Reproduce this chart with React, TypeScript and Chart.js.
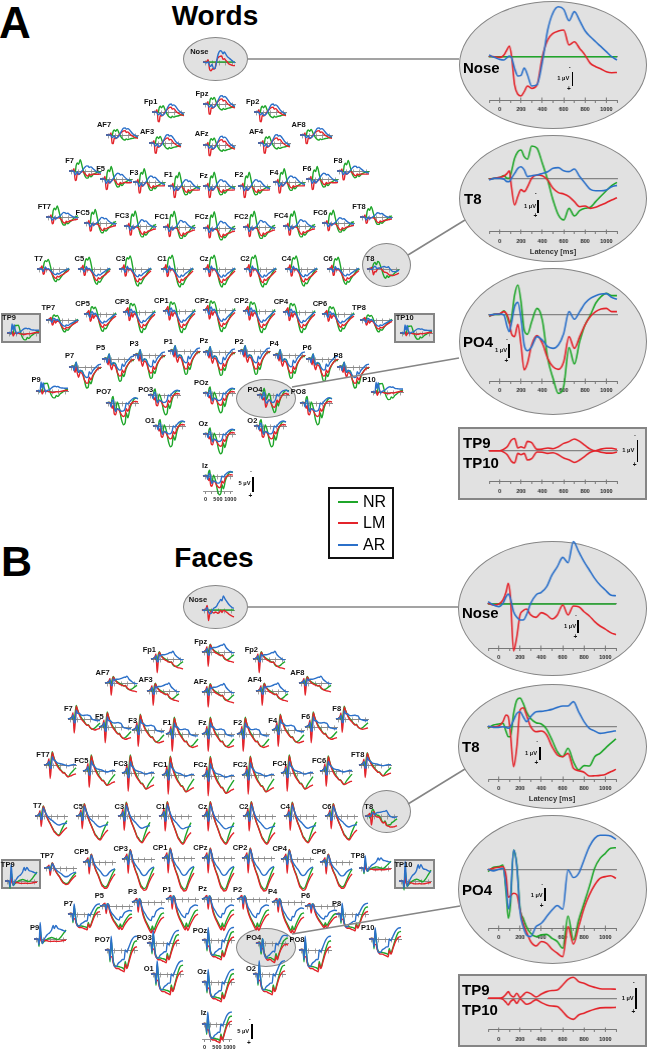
import React, { useEffect, useRef } from "react";
import Chart from "chart.js/auto";

// ---------- shared latency grids (ms) ----------
const LAT = [-100,-50,0,40,70,90,110,140,170,200,230,260,300,350,400,450,500,550,600,650,700,750,800,850,900,950,1000,1050,1100];
const SLAT = [-100,0,50,90,130,170,210,260,320,400,480,560,620,660,720,800,900,1000,1100];
const LARGE_TICKS_MINOR = [-100,100,300,500,700,900,1100];
const LARGE_TICKS_MAJOR = [0,200,400,600,800,1000];
const SMALL_TICKS = [0,250,500,750,1000];
const LEGEND_NAMES = ["NR","LM","AR"];

// ---------- enlarged traces, microvolts (negative is up) ----------
const W_NOSE_NR = LAT.map(() => 0);
const W_NOSE_LM = [-.05,0,.05,-.12,-.55,-.8,-.12,2.12,2.82,2.95,2.62,2.2,2.38,2.12,0,-1.25,-1.75,-1.92,-2,-.88,-1.12,-.62,-.12,.5,.75,.92,1.12,1.2,1.18];
const W_NOSE_AR = [-.12,.05,.2,.25,.05,-.05,.05,.88,1.45,1.4,.85,1.35,2.2,2.1,.4,-2,-3.3,-3.75,-3.55,-2.7,-3.38,-2.7,-1.95,-1.5,-1.12,-.75,-.38,0,.25];
const W_T8_NR = [0,-.05,-.12,-.25,-.05,-.05,-.55,-1.55,-2.05,-2.18,-1.68,-1.48,-2.48,-2.3,-1.18,.08,1.58,2.7,3.08,2.2,2.78,2.38,2.2,2.12,1.7,1.28,.88,.5,.25];
const W_T8_LM = [.02,-.05,-.12,-.22,-.42,-.62,.58,1.95,1.3,.8,.95,.6,-.05,-.3,-.25,.08,.7,1.02,1.12,1.32,1.7,2.08,2.02,2.2,2.12,1.95,1.78,1.58,1.4];
const W_T8_AR = [.08,-.05,-.05,.02,.2,.2,-.05,-.42,-.8,-.92,-.68,-.18,-.25,-.3,-.42,-.55,-.8,-.85,-.62,-.55,-.75,-.18,.32,.78,.88,.88,.82,.58,.48];
const W_PO4_NR = [.12,-.05,-.05,-.32,.12,.62,.25,-1.5,-2.25,-1,1.12,1.45,.5,-.5,.38,3.25,4.75,5.88,5.35,2.45,3.68,2,.75,0,-.88,-1.38,-1.62,-1.45,-1.45];
const W_PO4_LM = [.08,-.05,-.1,-.25,0,.5,1.38,1.62,.7,2.25,4.12,3.62,2.25,1.55,2.12,3.25,3.88,4.08,3.5,1.62,2.5,1.62,.75,.12,-.25,-.45,-.5,-.25,-.25];
const W_PO4_AR = [0,-.05,-.08,0,.88,1.25,.62,-.62,-.95,.25,2.25,2.68,2.38,1.62,1.88,2.38,2.5,2.25,1.38,-.25,.32,-.25,-.88,-1.25,-1.45,-1.58,-1.6,-1.32,-1.18];
const W_TP9 = [0,0,0,-.12,-.3,-.55,-.8,-.92,-.2,-.3,-.2,-.7,-.6,-.1,-.12,-.2,-.15,-.3,-.55,-.68,-.88,-.7,-.4,-.12,0,-.12,-.18,-.18,-.1];
const W_TP10 = [0,0,0,.12,.3,.55,.8,.92,.2,.3,.2,.7,.6,.1,.12,.2,.15,.3,.55,.68,.88,.7,.4,.12,0,.12,.18,.18,.1];

const F_NOSE_NR = LAT.map(() => 0);
const F_NOSE_LM = [-.05,.08,0,-.3,-.92,-1.55,-.55,3.52,2.45,.82,.5,.38,.82,1,.65,.82,1.12,.82,.08,.82,.15,.2,.58,.9,1.32,1.65,1.88,2.15,2.3];
const F_NOSE_AR = [-.18,.08,.2,-.05,-.55,-.75,-.42,.58,1,1.2,1.2,.82,-.05,-.68,-.88,-1.3,-2.18,-2.8,-3.5,-3.1,-4.68,-3.92,-3.18,-2.55,-1.92,-1.42,-1.05,-.68,-.62];
const F_T8_NR = [.12,-.12,-.2,-.25,.38,.75,.75,-1,-2,-2.15,-1.75,-1.12,-.62,-.3,-.2,.2,1,1.88,2.25,1.62,2.62,3.25,2.92,2.95,2.25,2,1.62,1.25,.92];
const F_T8_LM = [0,0,-.05,-.38,-.88,-.75,.5,3,1.5,-1.25,-1.42,-.88,0,.38,.32,.62,1.5,2.12,2.25,2,3.12,3.3,3.42,3.7,3.68,3.65,3.58,3.38,3.2];
const F_T8_AR = [-.05,.05,.05,0,.05,.12,0,-.5,-1,-1.12,-.75,-.38,-.75,-1.12,-1.15,-1.22,-1.3,-1.45,-1.55,-1.55,-1.88,-1.12,-.38,.12,.32,.5,.45,.38,.3];
const F_PO4_NR = [.18,-.15,-.2,-.32,1.8,3.68,2.68,-1.45,-.32,2.92,3.68,4.3,4.8,5.05,4.92,4.88,5.18,5.42,5.92,3.5,5.3,3.8,2.55,1.3,-.08,-.82,-1.2,-1.58,-1.62];
const F_PO4_LM = [.05,-.08,-.15,-.2,.55,2.1,2,1.8,1.92,3.05,4.05,4.68,5.42,5.75,5.42,5.55,6,6.3,6.55,4.3,5.62,4.3,2.92,1.92,1.18,.68,.55,.48,.68];
const F_PO4_AR = [0,.12,0,-.08,1.42,2.98,2.18,-1.45,-.2,3.18,4.3,4.92,5.05,4.3,4.05,3.55,3.05,2.72,3,.05,.62,.3,-.7,-1.7,-2.32,-2.55,-2.55,-2.5,-2.25];
const F_TP9 = [0,0,0,-.08,-.32,-.5,-.25,-.1,-.38,-.05,-.25,-.45,-.35,-.1,-.32,-.5,-.58,-.62,-1,-1.42,-1.58,-1.25,-1.12,-.95,-.82,-.72,-.7,-.7,-.68];
const F_TP10 = [0,0,0,.08,.32,.5,.25,.1,.38,.05,.25,.45,.35,.1,.32,.5,.58,.62,1,1.42,1.58,1.25,1.12,.95,.82,.72,.7,.7,.68];

// ---------- electrode-group traces (Words) ----------
const W_FP_NR = [0,-.1,-.2,0,.3,-1.5,-2,-1.5,-2.2,-.5,1,1.8,2,1.5,1.8,1.5,1.3,1,.9];
const W_FP_LM = [0,-.1,-.2,-.8,3.3,3.4,1.2,1.4,1,-.2,-1,-1.6,-1.7,-1,-1.2,-.3,.5,1,1.3];
const W_FP_AR = [0,0,0,.3,1,.8,.3,1.2,1,.2,-1.5,-2.7,-2.8,-2.3,-2.5,-1.8,-.5,.2,.8];
const W_F_NR = [0,-.1,-.2,0,.5,-2.2,-3.2,-2.6,-4.4,-1.5,1.5,2.8,2.7,1.6,2.3,1.5,.8,.4,.3];
const W_F_LM = [0,-.1,-.2,-.9,3.7,3.6,1,1.4,.8,.2,.8,1.8,2,1.2,1.6,1.2,1.3,1.3,1.2];
const W_F_AR = [0,0,0,.4,1.5,1,.3,1.3,.8,-.2,-1.3,-2,-1.9,-1.4,-1.6,-.9,0,.5,.9];
const W_FC_NR = [0,-.1,-.2,0,.3,-3,-4.2,-3.4,-5.3,-2,2,3.8,3.8,2.6,3.2,2.3,1.2,0,-.6];
const W_FC_LM = [0,-.1,-.2,-1,3.2,3,.3,.8,.3,.4,1.3,2.7,2.9,2,2.4,1.8,1.6,1.2,1];
const W_FC_AR = [0,0,0,.4,1.5,1,0,1,.4,-.2,-1.2,-2.2,-2,-1.6,-1.8,-1,-.2,.2,.5];
const W_C_NR = [0,-.1,-.3,-.2,-.5,-3,-4,-3.5,-4.6,-1.5,3,5.5,6,4.8,5.2,3.8,2.3,.8,-.3];
const W_C_LM = [0,-.2,-.6,-1.5,2.5,2.2,-.5,.4,.2,1,2.6,4.2,4.5,3.4,3.8,3,2.4,1.5,.6];
const W_C_AR = [0,0,-.1,.3,1.2,.3,-1,0,-.2,.6,1.6,2.6,2.7,2,2.4,1.7,1,.3,-.3];
const W_CP_NR = [0,-.2,-.6,-.4,-.3,-2.7,-3,-2.2,-2.8,-.5,4,6.8,7.2,5.8,6.2,4.5,2.5,.8,-.5];
const W_CP_LM = [0,-.2,-1,-1.5,3,2.5,.3,1.8,.6,1.2,3.4,5.2,5.5,4.4,4.8,4,2.8,1.7,.8];
const W_CP_AR = [0,-.1,-.3,.8,1.5,-.6,-1,.2,-.3,.8,2.4,3.6,3.8,3,3.3,2.5,1.6,.7,0];
const W_P_NR = [0,-.2,-.5,.4,-.8,-1.8,.6,2,1.5,1.5,5,7.8,7.5,5.2,6.2,3.5,1.5,.5,.5];
const W_P_LM = [0,-.1,-.4,.9,2,-.3,2.2,3.8,2,2.6,4.8,6,5.8,3.8,4.8,3,1.6,.5,.1];
const W_P_AR = [0,-.1,-.3,1.3,-.4,-1.8,.5,2,1.2,1.8,3.2,3.9,3.7,1.7,2.6,1.2,.2,-.8,-1];
const W_O_NR = [0,-.2,-.2,.6,-1.5,-2,1.2,2.5,-.3,1.5,5,6.6,6,3,4.5,1.6,-.5,-1.4,-1.4];
const W_O_LM = [0,-.1,-.2,.6,1.6,.7,3.3,3.6,1.7,2.3,3.6,4.1,3.6,1.7,2.5,.8,-.2,-.5,-.3];
const W_O_AR = [0,-.1,0,1.2,-.6,-.9,1,2.6,1.7,2,2.5,2.4,1.6,0,.3,-.5,-1.3,-1.6,-1.2];
const W_TP_NR = [0,.1,.3,-.3,.3,-1.5,-2.5,-2.5,-2.6,-.5,1.5,2.3,2.2,1.5,1.8,1,.4,-.3,-.6];
const W_TP_LM = [0,0,.1,-.5,1,.4,-.2,.2,.1,.3,.4,.5,.4,.2,.3,.2,0,-.2,-.2];
const W_TP_AR = [0,-.1,.3,-3,-1,-2.8,-1,.3,-.2,-.4,-1,-1.5,-1.6,-1.4,-1.5,-1.1,-1,-.9,-.9];

// ---------- electrode-group traces (Faces) ----------
const F_FP_NR = [0,-.2,-.6,.2,.4,-1.4,-2.6,-1.6,-.8,-.2,.3,.8,1.2,1,2,2.6,2.4,1.6,.9];
const F_FP_LM = [0,-.2,-.8,-1.8,4.8,1,-2.4,-1.5,-.6,.2,.6,1,1.2,1,1.8,2.5,3,3.2,3.5];
const F_FP_AR = [0,-.2,-.4,-1.2,1,1,-1.6,-1,-1.5,-1.5,-1.7,-2,-2.3,-2.2,-2.7,-1.5,-.6,.1,.3];
const F_F_NR = [0,-.3,-.8,.3,.6,-2.5,-5.3,-3.5,-2,-.5,.7,1.8,2.4,2.2,3.2,4,3.6,2.6,1.6];
const F_F_LM = [0,-.3,-1,-2.5,5.5,1.5,-5,-3.5,-1.8,0,1,2,2.5,2.4,3.2,3.9,4.3,4,3.7];
const F_F_AR = [0,-.3,-.6,-1.6,1.4,1.5,-3.5,-2.2,-2.2,-1.5,-1.4,-1.5,-1.6,-1.4,-1.3,0,.4,.6,.6];
const F_FC_NR = [0,-.3,-1,.3,.7,-3,-6.3,-4,-2,-.2,1.5,2.8,3.6,3.6,4.6,5.6,4,2.6,1.3];
const F_FC_LM = [0,-.3,-1.2,-3,6.4,1.5,-6,-4,-1.5,.6,2,3,3.8,3.8,4.6,5.6,5.2,4.6,4.2];
const F_FC_AR = [0,-.3,-.7,-1.8,1.6,1.6,-4,-2.5,-2,-1,-.7,-.5,-.3,-.1,.2,.4,.1,-.2,-.2];
const F_C_NR = [0,-.2,-1,.2,.5,-2.5,-4.8,-3,-.5,2,3.8,5.8,7.2,7.6,8.6,9,6.5,4,2.2];
const F_C_LM = [0,-.2,-1,-2.5,5,1,-4.7,-3,-.5,2,4,6,7.5,8,8.8,9.4,8,6.5,5.5];
const F_C_AR = [0,-.2,-.6,-1.5,1.8,1.2,-3.8,-2.5,-1,.6,1.6,2.3,3,3.4,4,4.3,3.9,3.6,3.4];
const F_CP_NR = [0,-.2,-.8,.2,.8,-1.5,-3.3,-1.5,1.2,3.8,5.6,8,9.4,9.8,10.4,10,7.5,5,3];
const F_CP_LM = [0,-.2,-1,-1.8,5,.3,-3.3,-1.5,1.5,4,6,8.5,10,10.3,11,10.8,8.5,6.5,5];
const F_CP_AR = [0,-.2,-.5,-1,2,.5,-2.8,-1.5,.5,2,3,4,5,5.5,5.8,5.5,4.2,3.3,2.8];
const F_P_NR = [0,-.3,-.8,-.4,1.5,-1,-.9,1.8,4,6,7.4,8.8,9.5,8,9.3,7.5,5.5,4,3.6];
const F_P_LM = [0,-.3,-1,-1.2,3.4,.3,-.8,2,4.5,6.5,8,9.5,10.3,9.2,10.5,8.8,7,5.6,5];
const F_P_AR = [0,-.3,-.6,-.6,1.6,-1,-.7,1.2,2.8,4,5.2,6,6.2,4.8,5,3.2,2.4,2,2.2];
const F_O_NR = [0,-.2,-.2,3.6,-3,0,3.4,4.6,5,5,5.2,5.4,5.8,3.5,5.3,3,-.2,-2.4,-2.8];
const F_O_LM = [0,-.2,-.2,2.2,2,2.2,4,5,5.6,5.6,6,6.3,6.6,4.3,5.6,3.5,.8,-.6,-1];
const F_O_AR = [0,0,-.1,3,-4.2,-.2,3.4,5,5,4,3.5,2.9,2.9,0,.6,-1,-3,-4,-4.2];
const F_TP_NR = [0,0,0,2.5,-3,-.5,1.5,1,.6,0,-.3,-.5,-.4,-.2,0,.2,-.6,-1.8,-3];
const F_TP_LM = [0,0,0,1.5,-1,.6,1,.5,.5,.6,.8,.8,.8,.7,.8,.8,.7,.5,.4];
const F_TP_AR = [0,0,0,2,-5.5,-1,1.5,.5,-.5,-1.5,-2,-3,-4.5,-3.5,-4.5,-3.5,-3.2,-2.8,-2.5];

type Triple = [number[], number[], number[]];
const WORD_GROUPS: Record<string, Triple> = {
  FP: [W_FP_NR, W_FP_LM, W_FP_AR], F: [W_F_NR, W_F_LM, W_F_AR], FC: [W_FC_NR, W_FC_LM, W_FC_AR],
  C: [W_C_NR, W_C_LM, W_C_AR], CP: [W_CP_NR, W_CP_LM, W_CP_AR], P: [W_P_NR, W_P_LM, W_P_AR],
  O: [W_O_NR, W_O_LM, W_O_AR], TP: [W_TP_NR, W_TP_LM, W_TP_AR],
};
const FACE_GROUPS: Record<string, Triple> = {
  FP: [F_FP_NR, F_FP_LM, F_FP_AR], F: [F_F_NR, F_F_LM, F_F_AR], FC: [F_FC_NR, F_FC_LM, F_FC_AR],
  C: [F_C_NR, F_C_LM, F_C_AR], CP: [F_CP_NR, F_CP_LM, F_CP_AR], P: [F_P_NR, F_P_LM, F_P_AR],
  O: [F_O_NR, F_O_LM, F_O_AR], TP: [F_TP_NR, F_TP_LM, F_TP_AR],
};
const WORD_LARGE: Record<string, Triple> = {
  Nose: [W_NOSE_NR, W_NOSE_LM, W_NOSE_AR], T8: [W_T8_NR, W_T8_LM, W_T8_AR], PO4: [W_PO4_NR, W_PO4_LM, W_PO4_AR],
};
const FACE_LARGE: Record<string, Triple> = {
  Nose: [F_NOSE_NR, F_NOSE_LM, F_NOSE_AR], T8: [F_T8_NR, F_T8_LM, F_T8_AR], PO4: [F_PO4_NR, F_PO4_LM, F_PO4_AR],
};
const FACE_GROUP_OVERRIDE: Record<string, [string, number]> = {
  P7: ["O", 0.8], P8: ["O", 0.85], P5: ["P", 0.75], P6: ["P", 0.7], TP8: ["TP", 0.75], TP7: ["CP", 0.5],
  P9: ["TP", 1], P10: ["O", 0.9], TP10: ["TP", 1.2],
};

// ---------- layout: name, group, gain, plot x, zero y, label x, label y (3x reference units) ----------
type Site = [string, string, number, number, number, number, number];
const SITES_TOP: Site[] = [
  ["Nose","L",1,610,187,598,157],
  ["Fp1","FP",.95,456,335,452,306],["Fpz","FP",1,610,313,606,282],["Fp2","FP",.95,762,335,758,306],
  ["AF7","FP",.85,318,405,312,375],["AF3","FP",1,446,429,441,396],["AFz","FP",1.05,610,434,605,403],["AF4","FP",1,773,429,768,396],["AF8","FP",.85,901,405,896,375],
  ["F7","F",.85,208,514,209,484],["F5","F",.95,300,537,302,507],["F3","F",1,400,547,402,520],["F1","F",1.05,503,558,505,526],["Fz","F",1.05,610,558,611,527],["F2","F",1.05,715,558,717,526],["F4","F",1,820,547,822,520],["F6","F",.95,918,537,921,507],["F8","F",.8,1012,514,1014,484],
  ["FT7","FC",.7,137,652,133,622],["FC5","FC",.85,253,669,248,639],["FC3","FC",.95,371,677,366,648],["FC1","FC",1,490,682,485,652],["FCz","FC",1.03,610,685,605,652],["FC2","FC",1,729,682,724,652],["FC4","FC",.95,848,677,843,648],["FC6","FC",.8,965,669,961,639],["FT8","FC",.65,1081,652,1077,622],
  ["T7","C",.7,110,806,116,776],["C5","C",.85,233,806,238,777],["C3","C",.95,357,806,362,777],["C1","C",1,482,806,486,777],["Cz","C",1,610,806,612,777],["C2","C",1,732,806,735,777],["C4","C",.95,855,806,859,777],["C6","C",.85,980,806,984,777],["T8","L",1,1100,806,1110,777],
];
const SITES_BOTTOM: Site[] = [
  ["TP7","CP",.55,137,150,145,115],["CP5","CP",.8,253,133,248,103],["CP3","CP",.95,370,125,366,95],["CP1","CP",1,490,122,484,92],["CPz","CP",1,610,120,605,92],["CP2","CP",1,729,122,724,92],["CP4","CP",.95,848,125,843,95],["CP6","CP",.8,965,133,960,103],["TP8","CP",.55,1081,150,1077,115],
  ["TP9","TP",1,20,190,27,143],["TP10","TP",.9,1200,190,1214,143],
  ["P7","P",.9,208,290,209,258],["P5","P",.95,305,266,302,235],["P3","P",1,400,254,402,222],["P1","P",1,503,244,505,216],["Pz","P",1,610,245,612,214],["P2","P",1,715,244,717,216],["P4","P",1,820,254,822,222],["P6","P",.95,918,266,921,235],["P8","P",.9,1012,290,1014,258],
  ["P9","TP",1,107,363,108,330],["P10","TP",1.1,1112,365,1107,330],
  ["PO7","O",1.1,318,398,311,366],["PO3","O",1,445,376,437,360],["POz","O",1,610,368,604,340],["PO4","L",1,772,376,765,360],["PO8","O",1.1,901,398,895,366],
  ["O1","O",1.05,458,468,450,454],["Oz","O",1,610,492,610,463],["O2","O",1.05,763,468,757,454],
  ["Iz","O",.95,610,618,615,587],
];

const GREEN = "#1fa62a", RED = "#e3242b", BLUE = "#2b70c9", AXIS = "#8a8a8a";
const FONT = "'Liberation Sans', Arial, sans-serif";
const BODY_DY = 547.5, BODY_DX = -1.3;

// ---------- one small electrode plot ----------
const SM_W = 40, SM_H = 96, SM_PX_UV = 3;
function smallConfig(tr: Triple, grid: number[], gain: number, withScale: boolean) {
  const half = SM_H / 2 / SM_PX_UV;
  const ds = (vals: number[], c: string) => ({
    data: vals.map((v, i) => ({ x: grid[i], y: v * gain })), borderColor: c, borderWidth: 1.4,
    pointRadius: 0, cubicInterpolationMode: "monotone", clip: false,
  });
  const tickAxis = (len: number, extra = {}) => ({
    type: "linear", axis: "x", min: -100, max: 1100, position: { y: 0 },
    afterBuildTicks: (s: any) => { s.ticks = SMALL_TICKS.map((value) => ({ value })); },
    ticks: { display: false },
    border: { color: AXIS, width: 0.9 },
    grid: { drawOnChartArea: false, tickLength: len, color: AXIS, tickWidth: 0.8 },
    ...extra,
  });
  const scales: any = {
    x: tickAxis(2.5),
    x2: tickAxis(-2.5),
    y: { type: "linear", display: false, reverse: true, min: -half, max: half },
  };
  if (withScale) {
    scales.x3 = {
      type: "linear", axis: "x", min: -100, max: 1100, position: { y: 5.3 },
      afterBuildTicks: (s: any) => { s.ticks = SMALL_TICKS.map((value) => ({ value })); },
      ticks: { display: true, autoSkip: false, maxRotation: 0, padding: 2, color: "#222",
        font: { size: 5.5, weight: "bold", family: FONT },
        callback: (v: number) => (v % 500 === 0 ? String(v) : "") },
      border: { color: AXIS, width: 0.9 },
      grid: { drawOnChartArea: false, tickLength: 2, color: AXIS },
    };
  }
  return baseConfig([ds(tr[2], BLUE), ds(tr[1], RED), ds(tr[0], GREEN)], scales, 4);
}
function baseConfig(datasets: any[], scales: any, pad: number) {
  return {
    type: "line",
    data: { datasets },
    options: {
      animation: false, responsive: false, events: [],
      layout: { padding: { left: pad, right: pad, top: 0, bottom: 0 } },
      plugins: { legend: { display: false }, tooltip: { enabled: false }, title: { display: false } },
      scales,
    },
  } as any;
}

// ---------- one enlarged plot ----------
const LG_PX_UV = 13.33, LG_PX_MS = 0.1063, LG_PAD = 10;
function largeConfig(series: number[][], colors: string[], H: number, zero: number, axis: number) {
  const datasets = series.map((vals, i) => ({
    data: vals.map((v, j) => ({ x: LAT[j], y: v })), borderColor: colors[i], borderWidth: 1.6,
    pointRadius: 0, cubicInterpolationMode: "monotone", clip: false,
  }));
  const axisUv = (axis - zero) / LG_PX_UV;
  const all = [...LARGE_TICKS_MINOR, ...LARGE_TICKS_MAJOR].sort((a, b) => a - b);
  const scales: any = {
    x: {
      type: "linear", axis: "x", min: -100, max: 1100, position: { y: axisUv },
      afterBuildTicks: (s: any) => { s.ticks = all.map((value) => ({ value })); },
      ticks: { autoSkip: false, maxRotation: 0, padding: 4, color: "#222",
        font: { size: 5.5, weight: "bold", family: FONT },
        callback: (v: number) => (LARGE_TICKS_MAJOR.includes(v) ? String(v) : "") },
      border: { color: "#777", width: 1 },
      grid: { drawOnChartArea: false, tickLength: 2, color: "#777" },
    },
    xt: {
      type: "linear", axis: "x", min: -100, max: 1100, position: { y: axisUv },
      afterBuildTicks: (s: any) => { s.ticks = LARGE_TICKS_MAJOR.map((value) => ({ value })); },
      ticks: { display: false },
      border: { display: false },
      grid: { drawOnChartArea: false, tickLength: -2.5, color: "#777" },
    },
    xz: {
      type: "linear", axis: "x", min: -100, max: 1100, position: { y: 0 },
      ticks: { display: false },
      border: { color: "#858585", width: 1.3 },
      grid: { display: false, drawOnChartArea: false, drawTicks: false },
    },
    y: { type: "linear", display: false, reverse: true, min: -zero / LG_PX_UV, max: (H - zero) / LG_PX_UV },
  };
  return baseConfig(datasets, scales, LG_PAD);
}

// ---------- plot descriptions ----------
type Plot = { key: string; left: number; top: number; w: number; h: number; cfg: any };
const plots: Plot[] = [];
const labels: { t: string; x: number; y: number }[] = [];

function addSmall(panel: 0 | 1, s: Site, yBase: number) {
  const [name, group0, gain0, zx, zy, lx, ly] = s;
  const dx = panel ? BODY_DX : 0, dy = panel ? BODY_DY : 0;
  const x = zx / 3 + dx, y = zy / 3 + yBase + dy;
  labels.push({ t: name, x: lx / 3 + dx, y: ly / 3 + yBase + dy });
  let tr: Triple, grid = SLAT, gain = gain0;
  if (group0 === "L") {
    tr = (panel ? FACE_LARGE : WORD_LARGE)[name];
    grid = LAT;
    gain = 1;
  } else if (panel && FACE_GROUP_OVERRIDE[name]) {
    tr = FACE_GROUPS[FACE_GROUP_OVERRIDE[name][0]];
    gain = FACE_GROUP_OVERRIDE[name][1];
  } else {
    tr = (panel ? FACE_GROUPS : WORD_GROUPS)[group0];
  }
  plots.push({
    key: `${panel}-${name}`, left: x - 4, top: y - SM_H / 2, w: SM_W, h: SM_H,
    cfg: smallConfig(tr, grid, gain, name === "Iz"),
  });
}
[0, 1].forEach((p) => {
  SITES_TOP.forEach((s) => addSmall(p as 0 | 1, s, 0));
  SITES_BOTTOM.forEach((s) => addSmall(p as 0 | 1, s, 270));
});

type Big = { key: string; series: number[][]; colors: string[]; x0: number; top: number; h: number; zero: number; axis: number };
const COLORS3 = [BLUE, RED, GREEN];
const RR = [RED, RED];
const bigs: Big[] = [
  { key: "wn", series: [W_NOSE_AR, W_NOSE_LM, W_NOSE_NR], colors: COLORS3, x0: 489.3, top: 1, h: 128, zero: 56.7, axis: 100 },
  { key: "wt", series: [W_T8_AR, W_T8_LM, W_T8_NR], colors: COLORS3, x0: 489.3, top: 135, h: 127, zero: 179, axis: 231.7 },
  { key: "wp", series: [W_PO4_AR, W_PO4_LM, W_PO4_NR], colors: COLORS3, x0: 489.3, top: 268, h: 147, zero: 315, axis: 381 },
  { key: "wb", series: [W_TP9, W_TP10], colors: RR, x0: 489.3, top: 427, h: 73, zero: 450.7, axis: 481.7 },
  { key: "fn", series: [F_NOSE_AR, F_NOSE_LM, F_NOSE_NR], colors: COLORS3, x0: 488, top: 538, h: 138, zero: 604, axis: 648.3 },
  { key: "ft", series: [F_T8_AR, F_T8_LM, F_T8_NR], colors: COLORS3, x0: 488, top: 684, h: 125, zero: 726.7, axis: 779.3 },
  { key: "fp", series: [F_PO4_AR, F_PO4_LM, F_PO4_NR], colors: COLORS3, x0: 488, top: 815, h: 149, zero: 869.3, axis: 928.3 },
  { key: "fb", series: [F_TP9, F_TP10], colors: RR, x0: 488, top: 974, h: 73, zero: 998.3, axis: 1030 },
];
const BIG_W = 1200 * LG_PX_MS + 2 * LG_PAD;
bigs.forEach((b) => {
  plots.push({
    key: b.key, left: b.x0 - LG_PAD, top: b.top, w: BIG_W, h: b.h,
    cfg: largeConfig(b.series, b.colors, b.h, b.zero - b.top, b.axis - b.top),
  });
});

// ---------- decoration tables ----------
const ELLIPSES = [
  [459, 1, 188, 128], [459, 135, 188, 127], [459, 268, 188, 147],
  [458, 541, 189, 135], [458, 684, 189, 125], [458, 815, 189, 149],
  [183, 37, 65, 44], [362, 243, 49, 44], [236, 379, 60, 39],
  [183, 585, 65, 44], [362, 790, 49, 43], [236, 928, 60, 39],
];
const BOXES = [
  [458, 427, 189, 73], [458, 974, 189, 73],
  [1, 313, 40, 30], [394, 313, 41, 30], [1, 859, 40, 30], [394, 859, 41, 30],
];
const CONNECTORS = [
  [248, 59, 459, 59], [408, 255, 465, 220], [292, 387, 459, 358],
  [248, 607, 458, 607], [408, 804, 465, 769], [292, 934, 460, 906],
];
const BIG_LABELS: [string, number, number][] = [
  ["Nose", 463, 67], ["T8", 464, 198], ["PO4", 463, 341], ["TP9", 463, 442], ["TP10", 463, 462],
  ["Nose", 462, 612], ["T8", 462, 746], ["PO4", 462, 889], ["TP9", 462, 989], ["TP10", 462, 1009],
];
// bar x, bar y1, bar y2, text x, text y, minus x, minus y, plus x, plus y, label
const SCALE_BARS: [number, number, number, number, number, number, number, number, number, string][] = [
  [572.3, 72.3, 85.7, 563.3, 79.3, 569.7, 68.3, 569, 89, "1 µV"],
  [537.7, 200, 213.3, 530, 206.7, 535.7, 194.3, 535.3, 216, "1 µV"],
  [509, 344.3, 357.7, 501, 351, 507, 340, 506.3, 360.7, "1 µV"],
  [637.3, 440, 461.7, 628.3, 451, 635, 435.7, 634.7, 465, "1 µV"],
  [578, 620, 633.3, 570, 627, 576, 615.7, 575.3, 636.7, "1 µV"],
  [539.7, 747.3, 760, 531, 753.7, 537.3, 742.3, 536.3, 762.7, "1 µV"],
  [544.7, 888.3, 901, 536.7, 896, 542.3, 884.7, 541.7, 905.7, "1 µV"],
  [635.7, 987.7, 1009.3, 627.7, 998.7, 633.7, 983.3, 633.3, 1012.3, "1 µV"],
  [253, 476.7, 491.7, 244.5, 484, 251, 472, 250.3, 495.7, "5 µV"],
  [251.7, 1024.2, 1039.2, 243.2, 1031.5, 249.7, 1019.5, 249, 1043.2, "5 µV"],
];
const LEGEND_ROWS: [string, string, number][] = [
  [LEGEND_NAMES[0], GREEN, 502], [LEGEND_NAMES[1], RED, 523], [LEGEND_NAMES[2], BLUE, 545],
];

const txt = (x: number, y: number, extra: React.CSSProperties = {}): React.CSSProperties => ({
  position: "absolute", left: x, top: y, fontFamily: FONT, whiteSpace: "nowrap", lineHeight: 1, color: "#111", ...extra,
});

export default function App() {
  const host = useRef<HTMLDivElement>(null);
  useEffect(() => {
    const charts: Chart[] = [];
    const canvases = host.current!.querySelectorAll("canvas");
    plots.forEach((p, i) => { charts.push(new Chart(canvases[i], p.cfg)); });
    return () => charts.forEach((c) => c.destroy());
  }, []);
  return (
    <div ref={host} style={{ position: "absolute", left: 0, top: 0, width: 648, height: 1050, overflow: "hidden", background: "#fff", filter: "blur(0.3px)" }}>
      {ELLIPSES.map(([x, y, w, h], i) => (
        <div key={"e" + i} style={{ position: "absolute", left: x, top: y, width: w, height: h, boxSizing: "border-box", borderRadius: "50%", background: "#e1e1e1", border: "1.5px solid #858585" }} />
      ))}
      {BOXES.map(([x, y, w, h], i) => (
        <div key={"b" + i} style={{ position: "absolute", left: x, top: y, width: w, height: h, boxSizing: "border-box", background: "#e1e1e1", border: "2.5px solid #858585" }} />
      ))}
      <div style={txt(-1, 1, { fontSize: 44, fontWeight: 700, color: "#000" })}>A</div>
      <div style={txt(1, 540, { fontSize: 43, fontWeight: 700, color: "#000" })}>B</div>
      <div style={txt(215, 2, { fontSize: 28, fontWeight: 700, color: "#000", transform: "translateX(-50%)" })}>Words</div>
      <div style={txt(214, 544, { fontSize: 28, fontWeight: 700, color: "#000", transform: "translateX(-50%)" })}>Faces</div>
      {plots.map((p) => (
        <canvas key={p.key} width={p.w} height={p.h} style={{ position: "absolute", left: p.left, top: p.top, width: p.w, height: p.h }} />
      ))}
      {labels.map((l, i) => (
        <div key={"l" + i} style={txt(l.x, l.y, { fontSize: 7.5, fontWeight: 700, transform: "translate(-50%,-50%)" })}>{l.t}</div>
      ))}
      {BIG_LABELS.map(([t, x, y], i) => (
        <div key={"g" + i} style={txt(x, y, { fontSize: 15, fontWeight: 700, color: "#000", transform: "translateY(-50%)" })}>{t}</div>
      ))}
      <div style={txt(553, 252, { fontSize: 7.5, fontWeight: 700, transform: "translate(-50%,-50%)", color: "#333" })}>Latency [ms]</div>
      <div style={txt(552, 799, { fontSize: 7.5, fontWeight: 700, transform: "translate(-50%,-50%)", color: "#333" })}>Latency [ms]</div>
      {SCALE_BARS.map(([bx, y1, y2, tx, ty, mx, my, px, py, t], i) => (
        <React.Fragment key={"s" + i}>
          <div style={{ position: "absolute", left: bx - 0.8, top: y1, width: 1.7, height: y2 - y1, background: "#000" }} />
          <div style={txt(tx, ty, { fontSize: 5.8, fontWeight: 700, transform: "translate(-50%,-50%)" })}>{t}</div>
          <div style={txt(mx, my, { fontSize: 5.8, fontWeight: 700, transform: "translate(-50%,-50%)" })}>-</div>
          <div style={txt(px, py, { fontSize: 6.5, fontWeight: 700, transform: "translate(-50%,-50%)" })}>+</div>
        </React.Fragment>
      ))}
      <svg width={648} height={1050} style={{ position: "absolute", left: 0, top: 0, pointerEvents: "none" }}>
        {CONNECTORS.map(([x1, y1, x2, y2], i) => (
          <line key={i} x1={x1} y1={y1} x2={x2} y2={y2} stroke="#858585" strokeWidth={1.6} />
        ))}
      </svg>
      <div style={{ position: "absolute", left: 328, top: 487, width: 66, height: 72, boxSizing: "border-box", border: "2px solid #111", background: "#fff" }} />
      {LEGEND_ROWS.map(([t, c, y]) => (
        <React.Fragment key={t}>
          <div style={{ position: "absolute", left: 338, top: y - 1, width: 20, height: 2, background: c }} />
          <div style={txt(363, y, { fontSize: 16, color: "#000", transform: "translateY(-50%)" })}>{t}</div>
        </React.Fragment>
      ))}
    </div>
  );
}
